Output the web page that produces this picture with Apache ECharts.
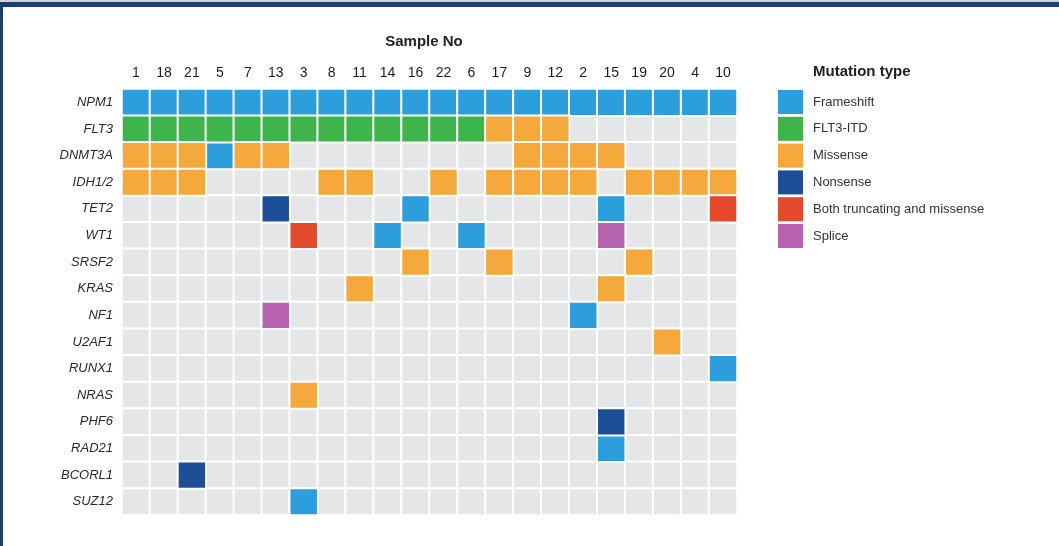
<!DOCTYPE html>
<html>
<head>
<meta charset="utf-8">
<script src="https://cdn.jsdelivr.net/npm/echarts@6/dist/echarts.min.js"></script>
<style>
  html, body { margin: 0; padding: 0; background: #fff; }
  #frame {
    position: absolute; left: 0; top: 0; width: 1059px; height: 546px;
    box-sizing: border-box;
    border-top: 2px solid #cfd3da;
  }
  #frame::before {
    content: ""; position: absolute; left: 0; top: 0; right: 0; height: 5px; background: #1c3e6c;
  }
  #frame::after {
    content: ""; position: absolute; left: 0; top: 0; bottom: 0; width: 3px; background: #1c3e6c;
  }
  #chart { position: absolute; left: 0; top: 0; width: 1059px; height: 546px; }
</style>
</head>
<body>
<div id="frame"></div>
<div id="chart"></div>
<script>
// Sample order along the top axis
const samples = ['1', '18', '21', '5', '7', '13', '3', '8', '11', '14', '16', '22', '6', '17', '9', '12', '2', '15', '19', '20', '4', '10'];

// Genes, top to bottom
const genes = ['NPM1', 'FLT3', 'DNMT3A', 'IDH1/2', 'TET2', 'WT1', 'SRSF2', 'KRAS', 'NF1', 'U2AF1', 'RUNX1', 'NRAS', 'PHF6', 'RAD21', 'BCORL1', 'SUZ12'];

// One string per gene, one character per sample (same order as samples):
// F = Frameshift, I = FLT3-ITD, M = Missense, N = Nonsense,
// B = Both truncating and missense, S = Splice, . = no mutation
const mutationRows = [
  'FFFFFFFFFFFFFFFFFFFFFF', // NPM1
  'IIIIIIIIIIIIIMMM......', // FLT3
  'MMMFMM........MMMM....', // DNMT3A
  'MMM....MM..M.MMMM.MMMM', // IDH1/2
  '.....N....F......F...B', // TET2
  '......B..F..F....S....', // WT1
  '..........M..M....M...', // SRSF2
  '........M........M....', // KRAS
  '.....S..........F.....', // NF1
  '...................M..', // U2AF1
  '.....................F', // RUNX1
  '......M...............', // NRAS
  '.................N....', // PHF6
  '.................F....', // RAD21
  '..N...................', // BCORL1
  '......F...............'  // SUZ12
];

// Mutation categories shown in the legend
const typeCodes = ['F', 'I', 'M', 'N', 'B', 'S'];
const typeNames = ['Frameshift', 'FLT3-ITD', 'Missense', 'Nonsense', 'Both truncating and missense', 'Splice'];

const typeColors = ['#2c9edb', '#3db54b', '#f5a83b', '#1d4f99', '#e5492b', '#b862b2'];
const emptyColor = '#e5e6e8';

// Build cell lists from the mutation strings
const background = [];
genes.forEach((g, gi) => samples.forEach((s, si) => background.push([si, gi, 0])));

const typeSeries = typeCodes.map((code, ti) => {
  const cells = [];
  mutationRows.forEach((row, gi) => {
    for (let si = 0; si < row.length; si++) {
      if (row[si] === code) cells.push([si, gi, 1]);
    }
  });
  return {
    name: typeNames[ti],
    type: 'heatmap',
    data: cells,
    itemStyle: { color: typeColors[ti], borderColor: '#ffffff', borderWidth: 2 },
    emphasis: { disabled: true },
    z: 3
  };
});

const font = 'Liberation Sans, Arial, Helvetica, sans-serif';

const chart = echarts.init(document.getElementById('chart'), null, { renderer: 'canvas' });
chart.setOption({
  animation: false,
  backgroundColor: 'transparent',
  textStyle: { fontFamily: font },
  title: [
    {
      text: 'Sample No', left: 419, top: 29, textAlign: 'center',
      textStyle: { fontSize: 15, fontWeight: 'bold', color: '#222', fontFamily: font }
    },
    {
      text: 'Mutation type', left: 808, top: 59,
      textStyle: { fontSize: 15, fontWeight: 'bold', color: '#222', fontFamily: font }
    }
  ],
  grid: { left: 122, right: 322, top: 89, bottom: 31 },
  xAxis: {
    type: 'category',
    data: samples,
    position: 'top',
    axisLine: { show: false },
    axisTick: { show: false },
    splitLine: { show: false },
    axisLabel: { fontSize: 14, color: '#1e1e1e', margin: 9, interval: 0, fontFamily: font }
  },
  yAxis: {
    type: 'category',
    data: genes,
    inverse: true,
    axisLine: { show: false },
    axisTick: { show: false },
    splitLine: { show: false },
    axisLabel: { fontSize: 13, color: '#2a2a2a', fontStyle: 'italic', margin: 9, interval: 0, fontFamily: font }
  },
  legend: {
    orient: 'vertical',
    left: 778,
    top: 90,
    padding: 0,
    itemWidth: 25,
    itemHeight: 24,
    itemGap: 2.8,
    icon: 'rect',
    selectedMode: false,
    data: typeNames,
    itemStyle: { borderWidth: 0 },
    textStyle: { fontSize: 13, color: '#333', padding: [0, 0, 0, 5], fontFamily: font }
  },
  series: [
    {
      name: 'none',
      type: 'heatmap',
      data: background,
      itemStyle: { color: emptyColor, borderColor: '#ffffff', borderWidth: 2 },
      emphasis: { disabled: true },
      z: 2
    }
  ].concat(typeSeries)
});
</script>
</body>
</html>
